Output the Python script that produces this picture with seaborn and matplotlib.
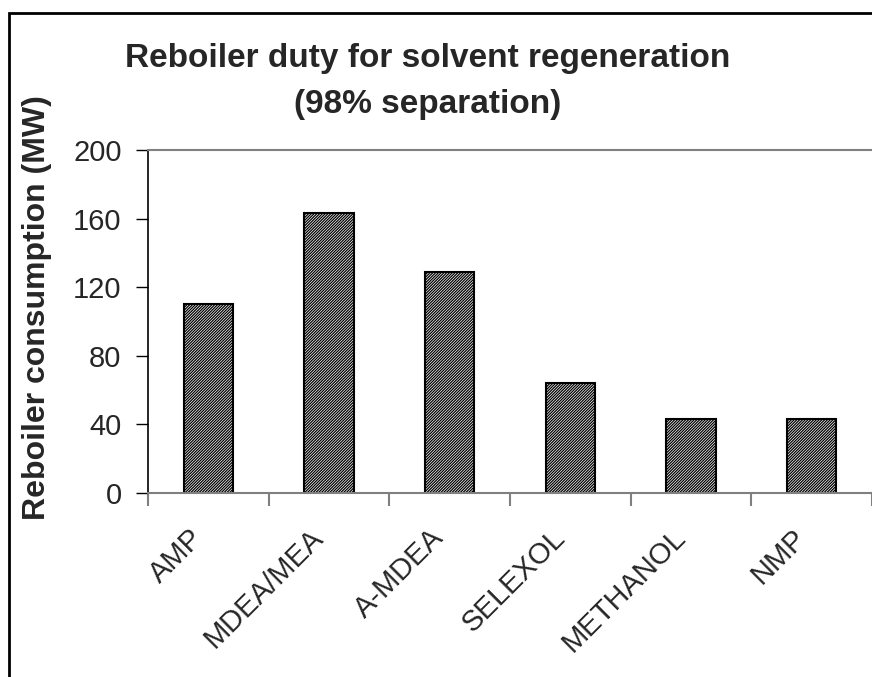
import pandas as pd
import numpy as np
import seaborn as sns
import matplotlib
matplotlib.use("Agg")
import matplotlib.pyplot as plt
from matplotlib.patches import Rectangle

### DATA
solvents = ["AMP", "MDEA/MEA", "A-MDEA", "SELEXOL", "METHANOL", "NMP"]
duty_mw = [110, 163, 129, 64, 43, 43]
y_ticks = [0, 40, 80, 120, 160, 200]

df = pd.DataFrame({"solvent": solvents, "duty": duty_mw})

### PLOT
sns.set_style("white")
plt.rcParams["font.family"] = ["Liberation Sans", "DejaVu Sans"]
plt.rcParams["hatch.linewidth"] = 0.9
plt.rcParams["hatch.color"] = "#2a2a2a"

fig = plt.figure(figsize=(8.72, 6.77), dpi=100)
ax = fig.add_axes([148 / 872, 1 - 493 / 677, 1 - 148 / 872, (493 - 150) / 677])

sns.barplot(data=df, x="solvent", y="duty", color="white", edgecolor="black",
            linewidth=1.5, width=0.41, ax=ax)
for p in ax.patches:
    p.set_hatch("////////////")
    p.set_facecolor("white")

ax.set_xlim(-0.5, len(solvents) - 0.5)
ax.set_ylim(0, 200)
ax.set_yticks(y_ticks)
ax.set_yticklabels([str(t) for t in y_ticks], fontsize=21)
ax.tick_params(axis="y", direction="out", length=9, width=1, color="black", pad=10, left=True)

# category labels on major ticks, boundary ticks as minor
ax.set_xticks(range(len(solvents)))
ax.set_xticklabels(solvents, rotation=45, ha="right", fontsize=21)
ax.tick_params(axis="x", which="major", length=0, pad=22)
ax.set_xticks(np.arange(-0.5, len(solvents)), minor=True)
ax.tick_params(axis="x", which="minor", direction="out", length=9, width=1.5,
               color="#808080", bottom=True)

ax.set_xlabel("")
ax.set_ylabel("Reboiler consumption (MW)", fontsize=23, fontweight="bold")
ax.yaxis.set_label_coords(-0.133, 0.542)

for side in ["top", "bottom"]:
    ax.spines[side].set_color("#808080")
    ax.spines[side].set_linewidth(1.5)
ax.spines["left"].set_color("black")
ax.spines["left"].set_linewidth(1.2)
ax.spines["right"].set_visible(False)

fig.text(0.49, 1 - 58 / 677, "Reboiler duty for solvent regeneration", ha="center", va="center",
         fontsize=24, fontweight="bold")
fig.text(0.49, 1 - 105 / 677, "(98% separation)", ha="center", va="center",
         fontsize=24, fontweight="bold")

# outer chart frame (cropped on right and bottom)
fig.patches.append(Rectangle((9 / 872, -0.1), 1.2, 1.1 - 13 / 677, transform=fig.transFigure,
                             fill=False, edgecolor="black", linewidth=2))

fig.savefig("out.png", dpi=100)
